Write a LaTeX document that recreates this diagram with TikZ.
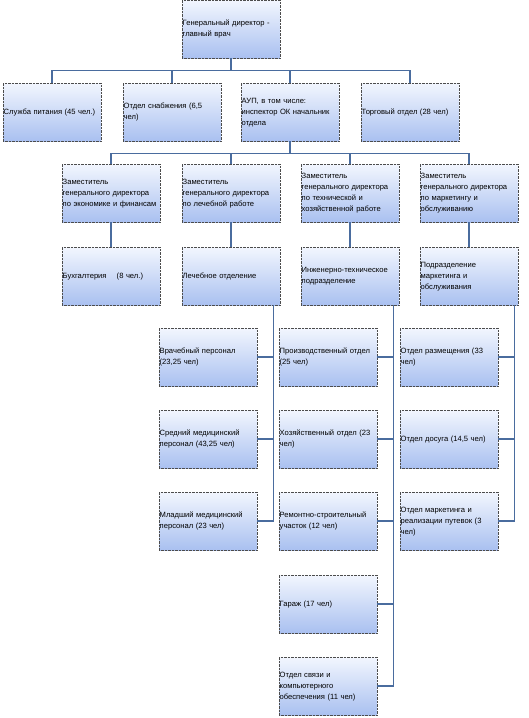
\documentclass[tikz,border=0pt]{standalone}
\usepackage{fontspec}
\setmainfont{Liberation Sans}
\usepackage{tikz}
\definecolor{boxtop}{HTML}{F2F6FE}
\definecolor{boxbot}{HTML}{A9C0F0}
\definecolor{linkcol}{HTML}{4A6C9E}
\tikzset{
  unit/.style={anchor=north west, minimum width=98pt, minimum height=58pt,
    text width=97pt, inner xsep=0.5pt, inner ysep=1.5pt, align=left,
    top color=boxtop, bottom color=boxbot, draw=black!70, densely dotted,
    font=\fontsize{7.6}{11}\selectfont},
  conn/.style={draw=linkcol, line width=1.8pt, solid}
}
\begin{document}
\begin{tikzpicture}[x=1pt,y=-1pt]
  \useasboundingbox (0,0) rectangle (529,718);
  \node[unit] (gd) at (182,0) {Генеральный директор -\\главный врач};

  \node[unit] (pit) at (3,83) {Служба питания (45 чел.)};
  \node[unit] (snab) at (123,83) {Отдел снабжения (6,5\\чел)};
  \node[unit] (aup) at (241,83) {АУП, в том числе:\\инспектор ОК начальник\\отдела};
  \node[unit] (torg) at (361,83) {Торговый отдел (28 чел)};

  \node[unit] (zeco) at (62,164) {Заместитель\\генерального директора\\по экономике и финансам};
  \node[unit] (zmed) at (182,164) {Заместитель\\генерального директора\\по лечебной работе};
  \node[unit] (ztech) at (301,164) {Заместитель\\генерального директора\\по технической и\\хозяйственной работе};
  \node[unit] (zmark) at (420,164) {Заместитель\\генерального директора\\по маркетингу и\\обслуживанию};

  \node[unit] (buh) at (62,247) {Бухгалтерия \quad (8 чел.)};
  \node[unit] (lech) at (182,247) {Лечебное отделение};
  \node[unit] (inzh) at (301,247) {Инженерно-техническое\\подразделение};
  \node[unit] (mark) at (420,247) {Подразделение\\маркетинга и\\обслуживания};

  \node[unit] (vrach) at (159,328) {Врачебный персонал\\(23,25 чел)};
  \node[unit] (sred) at (159,410) {Средний медицинский\\персонал (43,25 чел)};
  \node[unit] (mlad) at (159,492) {Младший медицинский\\персонал (23 чел)};

  \node[unit] (proizv) at (279,328) {Производственный отдел\\(25 чел)};
  \node[unit] (hoz) at (279,410) {Хозяйственный отдел (23\\чел)};
  \node[unit] (rem) at (279,492) {Ремонтно-строительный\\участок (12 чел)};
  \node[unit] (gar) at (279,575) {Гараж (17 чел)};
  \node[unit] (svyaz) at (279,657) {Отдел связи и\\компьютерного\\обеспечения (11 чел)};

  \node[unit] (razm) at (400,328) {Отдел размещения (33\\чел)};
  \node[unit] (dos) at (400,410) {Отдел досуга (14,5 чел)};
  \node[unit] (put) at (400,492) {Отдел маркетинга и\\реализации путевок (3\\чел)};

  \foreach \d in {pit,snab,aup,torg}
    \draw[conn] (gd.south) -- ++(0,12) -| (\d.north);
  \foreach \d in {zeco,zmed,ztech,zmark}
    \draw[conn] (aup.south) -- ++(0,12) -| (\d.north);
  \draw[conn] (zeco.south) -- (buh.north);
  \draw[conn] (zmed.south) -- (lech.north);
  \draw[conn] (ztech.south) -- (inzh.north);
  \draw[conn] (zmark.south) -- (mark.north);
  \foreach \d in {vrach,sred,mlad}
    \draw[conn] ([xshift=-7pt]lech.south east) |- (\d.east);
  \foreach \d in {proizv,hoz,rem,gar,svyaz}
    \draw[conn] ([xshift=-6pt]inzh.south east) |- (\d.east);
  \foreach \d in {razm,dos,put}
    \draw[conn] ([xshift=-4pt]mark.south east) |- (\d.east);
\end{tikzpicture}
\end{document}
